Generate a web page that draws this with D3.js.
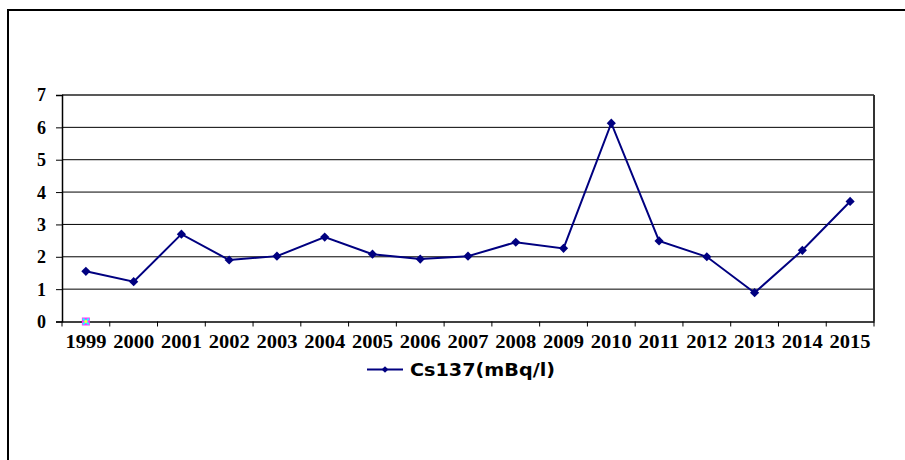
<!DOCTYPE html>
<html>
<head>
<meta charset="utf-8">
<script src="https://cdn.jsdelivr.net/npm/d3@7"></script>
<style>
  html, body { margin: 0; padding: 0; background: #fff; }
  svg { display: block; }
</style>
</head>
<body>
<svg id="chart" width="905" height="460"></svg>
<script>
const years = ["1999","2000","2001","2002","2003","2004","2005","2006","2007","2008","2009","2010","2011","2012","2013","2014","2015"];
const cs137 = [1.55, 1.23, 2.70, 1.90, 2.02, 2.61, 2.08, 1.93, 2.02, 2.45, 2.26, 6.13, 2.49, 2.00, 0.89, 2.20, 3.71];
const hiddenSeries = [0]; // a lone stray marker at 1999
const yTicks = [0, 1, 2, 3, 4, 5, 6, 7];
const seriesName = "Cs137(mBq/l)";

const SERIF = '"Liberation Serif"';
const SANS = '"DejaVu Sans"';

const svg = d3.select("#chart");
const plot = { left: 62, right: 874, top: 95, bottom: 321.5 };

// outer frame (only top and left sides are visible)
svg.append("rect")
  .attr("x", 8).attr("y", 10).attr("width", 1200).attr("height", 1200)
  .attr("fill", "none").attr("stroke", "#000").attr("stroke-width", 2);

const x = d3.scaleBand().domain(years).range([plot.left, plot.right]).padding(0);
const y = d3.scaleLinear().domain([0, 7]).range([plot.bottom, plot.top]);

// gridlines
svg.append("g").selectAll("line").data(yTicks.filter(d => d > 0 && d < 7)).join("line")
  .attr("x1", plot.left).attr("x2", plot.right)
  .attr("y1", d => y(d)).attr("y2", d => y(d))
  .attr("stroke", "#000").attr("stroke-width", 1);

// plot frame top and right
svg.append("line").attr("x1", plot.left).attr("x2", plot.right)
  .attr("y1", y(7)).attr("y2", y(7)).attr("stroke", "#222").attr("stroke-width", 1.5);
svg.append("line").attr("x1", plot.right).attr("x2", plot.right)
  .attr("y1", y(7)).attr("y2", plot.bottom).attr("stroke", "#333").attr("stroke-width", 2);

// y axis
const yAxis = d3.axisLeft(y).tickValues(yTicks).tickSize(6).tickPadding(10).tickFormat(d3.format("d"));
const gy = svg.append("g").attr("transform", `translate(${plot.left},0)`).call(yAxis);
gy.select(".domain").attr("stroke", "#000").attr("stroke-width", 1.5);
gy.selectAll(".tick line").attr("stroke", "#000");
gy.selectAll("text")
  .style("font-family", SERIF).style("font-weight", "bold").style("font-size", "18px")
  .attr("fill", "#000").attr("dy", "0.33em");

// x axis
const xAxis = d3.axisBottom(x).tickSize(0).tickPadding(14);
const gx = svg.append("g").attr("transform", `translate(0,${plot.bottom})`).call(xAxis);
gx.select(".domain").attr("stroke", "#000").attr("stroke-width", 1.5);
gx.selectAll("text")
  .style("font-family", SERIF).style("font-weight", "bold").style("font-size", "18px")
  .attr("fill", "#000")
  .attr("textLength", 41).attr("lengthAdjust", "spacingAndGlyphs");
// category boundary ticks
const bounds = years.map(d => x(d)).concat([plot.right]);
gx.append("g").selectAll("line").data(bounds).join("line")
  .attr("x1", d => d).attr("x2", d => d).attr("y1", 0).attr("y2", 5)
  .attr("stroke", "#000").attr("stroke-width", 1);

const cx = d => x(d) + x.bandwidth() / 2;

// series line
const line = d3.line().x((d, i) => cx(years[i])).y(d => y(d));
svg.append("path").datum(cs137)
  .attr("d", line).attr("fill", "none")
  .attr("stroke", "#000080").attr("stroke-width", 2);

const diamond = d3.symbol().type(d3.symbolSquare).size(42);
svg.append("g").selectAll("path").data(cs137).join("path")
  .attr("d", diamond)
  .attr("transform", (d, i) => `translate(${cx(years[i])},${y(d)}) rotate(45)`)
  .attr("fill", "#000080");

// stray multicoloured marker
const hg = svg.append("g");
hiddenSeries.forEach((v, i) => {
  const px = cx(years[i]), py = y(v);
  hg.append("rect").attr("x", px - 4).attr("y", py - 4).attr("width", 8).attr("height", 8)
    .attr("fill", "#ff33ff");
  hg.append("path").attr("d", `M${px-3},${py-3}L${px+3},${py+3}M${px+3},${py-3}L${px-3},${py+3}`)
    .attr("stroke", "#22ffff").attr("stroke-width", 2);
  hg.append("circle").attr("cx", px).attr("cy", py).attr("r", 1.5).attr("fill", "#ffff33");
});

// legend
const lg = svg.append("g");
const ly = 369.5;
lg.append("line").attr("x1", 367).attr("x2", 403).attr("y1", ly).attr("y2", ly)
  .attr("stroke", "#000080").attr("stroke-width", 2);
lg.append("path").attr("d", d3.symbol().type(d3.symbolSquare).size(22))
  .attr("transform", `translate(385,${ly}) rotate(45)`).attr("fill", "#000080");
lg.append("text").attr("x", 410).attr("y", ly).attr("dy", "0.37em")
  .style("font-family", SANS).style("font-weight", "bold").style("font-size", "17.5px")
  .attr("fill", "#000")
  .attr("textLength", 145).attr("lengthAdjust", "spacingAndGlyphs")
  .text(seriesName);
</script>
</body>
</html>
